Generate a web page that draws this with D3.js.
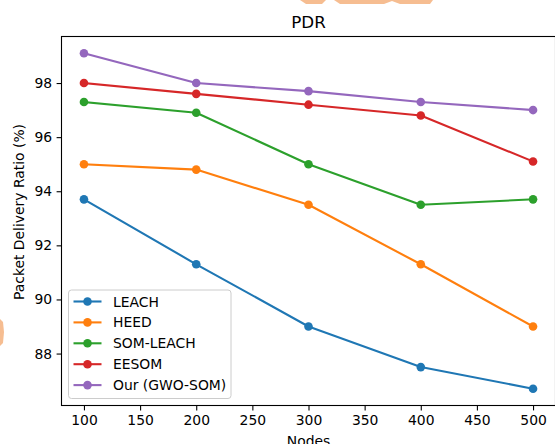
<!DOCTYPE html>
<html><head><meta charset="utf-8">
<script src="https://cdn.jsdelivr.net/npm/d3@7"></script>
<style>html,body{margin:0;padding:0;background:#fff;overflow:hidden}svg{display:block}</style>
</head><body>
<script>
const nodes = [100, 200, 300, 400, 500];
const seriesNames = ["LEACH", "HEED", "SOM-LEACH", "EESOM", "Our (GWO-SOM)"];
const leach = [93.7, 91.3, 89.0, 87.5, 86.7];
const heed = [95.0, 94.8, 93.5, 91.3, 89.0];
const somLeach = [97.3, 96.9, 95.0, 93.5, 93.7];
const eesom = [98.0, 97.6, 97.2, 96.8, 95.1];
const ours = [99.1, 98.0, 97.7, 97.3, 97.0];
const xTicks = [100, 150, 200, 250, 300, 350, 400, 450, 500];
const yTicks = [88, 90, 92, 94, 96, 98];
const colors = ["#1f77b4", "#ff7f0e", "#2ca02c", "#d62728", "#9467bd"];
const series = [leach, heed, somLeach, eesom, ours];

const W = 555, H = 444;
const L = 61.5, R = 555.5, T = 36.5, B = 405.5;
const font = "'DejaVu Sans', sans-serif";

const svg = d3.select("body").append("svg").attr("width", W).attr("height", H);

// watermark fragments
svg.append("path").attr("d", "M300,0 L326,0 L322,4 L306,4 Z").attr("fill", "#f4b27e").attr("opacity", 0.85);
svg.append("path").attr("d", "M334,0 L433,0 L430,4 L400,4 L392,1 L384,4 L340,4 Z").attr("fill", "#f4b27e").attr("opacity", 0.85);
svg.append("path").attr("d", "M0,319 L3,322 L4,332 L3,343 L0,346 Z").attr("fill", "#f4b27e").attr("opacity", 0.85);

const x = d3.scaleLinear().domain([80, 520]).range([L, R]);
const y = d3.scaleLinear().domain([86.08, 99.72]).range([B, T]);

// axes
const xAxis = svg.append("g").attr("transform", `translate(0,${B})`)
  .call(d3.axisBottom(x).tickValues(xTicks).tickSize(4.9).tickPadding(4.5).tickFormat(d3.format("d")));
const yAxis = svg.append("g").attr("transform", `translate(${L},0)`)
  .call(d3.axisLeft(y).tickValues(yTicks).tickSize(4.9).tickPadding(4.5).tickFormat(d3.format("d")));
[xAxis, yAxis].forEach(g => {
  g.select(".domain").remove();
  g.selectAll("line").attr("stroke", "#000").attr("stroke-width", 1.1);
  g.selectAll("text").attr("font-family", font).attr("font-size", 13.9).attr("fill", "#000");
});
// spines
svg.append("rect").attr("x", L).attr("y", T).attr("width", R - L).attr("height", B - T)
  .attr("fill", "none").attr("stroke", "#000").attr("stroke-width", 1.1);

// lines
const line = d3.line().x((d, i) => x(nodes[i])).y(d => y(d));
series.forEach((s, k) => {
  svg.append("path").datum(s).attr("d", line).attr("fill", "none")
    .attr("stroke", colors[k]).attr("stroke-width", 2.1).attr("stroke-linejoin", "round").attr("stroke-linecap", "square");
  svg.append("g").selectAll("circle").data(s).join("circle")
    .attr("cx", (d, i) => x(nodes[i])).attr("cy", d => y(d)).attr("r", 4.3).attr("fill", colors[k]);
});

// title and labels
svg.append("text").attr("x", (L + R) / 2).attr("y", 28).attr("text-anchor", "middle")
  .attr("font-family", font).attr("font-size", 16.7).text("PDR");
svg.append("text").attr("x", (L + R) / 2).attr("y", 446).attr("text-anchor", "middle")
  .attr("font-family", font).attr("font-size", 13.9).text("Nodes");
svg.append("text").attr("transform", `translate(24,212) rotate(-90)`).attr("text-anchor", "middle")
  .attr("font-family", font).attr("font-size", 13.9).text("Packet Delivery Ratio (%)");

// legend
const lg = svg.append("g");
lg.append("rect").attr("x", 68.5).attr("y", 290).attr("width", 162.5).attr("height", 108.5).attr("rx", 3)
  .attr("fill", "#fff").attr("fill-opacity", 0.8).attr("stroke", "#cccccc").attr("stroke-width", 1);
seriesNames.forEach((name, k) => {
  const cy = 301.5 + k * 20.9;
  lg.append("line").attr("x1", 73.5).attr("x2", 101.5).attr("y1", cy).attr("y2", cy)
    .attr("stroke", colors[k]).attr("stroke-width", 2.1);
  lg.append("circle").attr("cx", 87.5).attr("cy", cy).attr("r", 4.3).attr("fill", colors[k]);
  lg.append("text").attr("x", 113).attr("y", cy + 5).attr("font-family", font).attr("font-size", 13.9).text(name);
});
</script>
</body></html>
